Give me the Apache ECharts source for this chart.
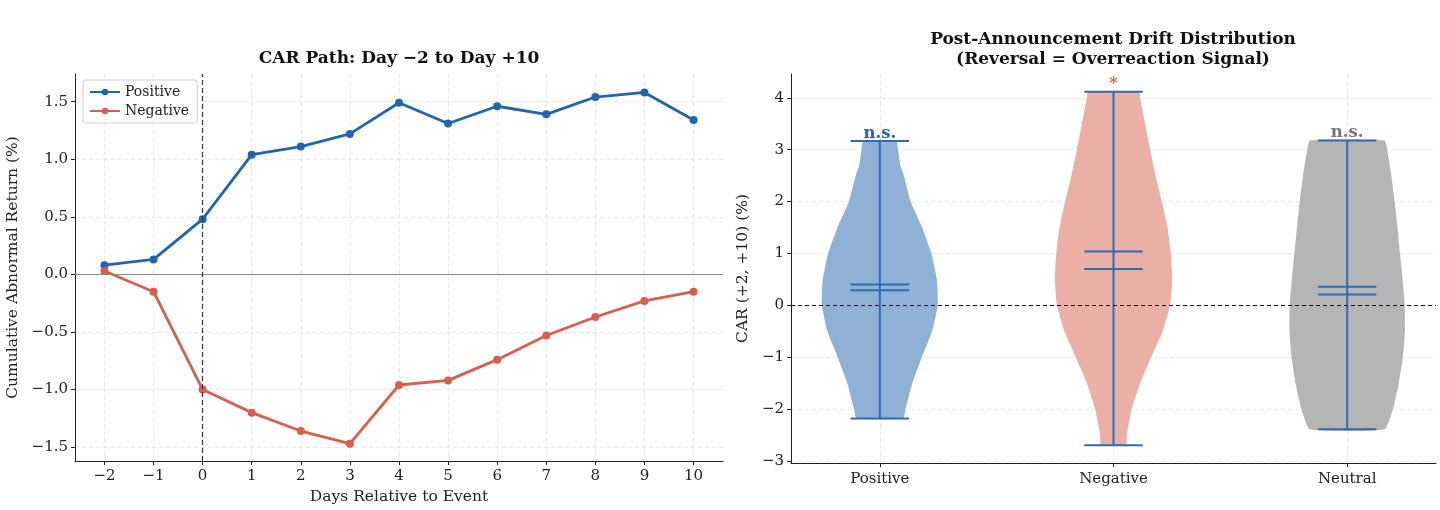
<!DOCTYPE html>
<html lang="en">
<head>
  <meta charset="UTF-8">
  <title>CAR path and drift</title>
  <style>html, body { margin: 0; background: #fff; }</style>
</head>
<body>
<div id="main" style="width:1440px;height:510px;"></div>
<script src="https://cdn.jsdelivr.net/npm/echarts@6/dist/echarts.min.js"></script>
<script>
  // left panel: CAR path
  const days = [-2, -1, 0, 1, 2, 3, 4, 5, 6, 7, 8, 9, 10]
  const positiveCar = [0.08, 0.13, 0.48, 1.04, 1.11, 1.22, 1.49, 1.31, 1.46, 1.39, 1.54, 1.58, 1.34]
  const negativeCar = [0.03, -0.15, -1.00, -1.20, -1.36, -1.47, -0.96, -0.92, -0.74, -0.53, -0.37, -0.23, -0.15]
  const carTicks = [-1.5, -1.0, -0.5, 0.0, 0.5, 1.0, 1.5]

  // right panel: drift distribution (violin outlines)
  const groups = ['Positive', 'Negative', 'Neutral']
  const driftTicks = [-3, -2, -1, 0, 1, 2, 3, 4]
  const posKdeY = [-2.18, -2.0, -1.5, -1.0, -0.5, 0.0, 0.5, 1.0, 1.5, 2.0, 2.5, 2.7, 3.0, 3.17]
  const posKdeW = [0.100, 0.110, 0.139, 0.180, 0.224, 0.248, 0.244, 0.221, 0.181, 0.132, 0.103, 0.088, 0.078, 0.071]
  const negKdeY = [-2.70, -2.5, -2.0, -1.5, -1.0, -0.5, 0.0, 0.5, 1.0, 1.5, 2.0, 2.5, 3.0, 3.5, 4.0, 4.12]
  const negKdeW = [0.053, 0.057, 0.078, 0.114, 0.161, 0.210, 0.242, 0.251, 0.245, 0.231, 0.207, 0.180, 0.157, 0.135, 0.114, 0.110]
  const neuKdeY = [-2.39, -2.0, -1.5, -1.0, -0.5, 0.0, 0.5, 1.0, 1.5, 2.0, 2.5, 3.0, 3.18]
  const neuKdeW = [0.160, 0.196, 0.221, 0.238, 0.247, 0.246, 0.237, 0.226, 0.215, 0.203, 0.189, 0.171, 0.160]
  const driftMax = [3.17, 4.12, 3.18]
  const driftMin = [-2.18, -2.70, -2.39]
  const driftMean = [0.40, 1.04, 0.36]
  const driftMedian = [0.29, 0.70, 0.21]
  const sigLabels = ['n.s.', '*', 'n.s.']

  const kdeY = [posKdeY, negKdeY, neuKdeY]
  const kdeW = [posKdeW, negKdeW, neuKdeW]
  const bodyColors = ['#8fb1d5', '#eaafa5', '#b5b5b5']
  const sigColors = ['#2166ac', '#d6604d', '#777777']
  const statColor = '#2a6db3'
  const serif = '"DejaVu Serif", serif'
  const minus = (s) => String(s).replace('-', '\u2212')

  const axisBase = {
    axisLine: { show: true, onZero: false, lineStyle: { color: '#222', width: 1 } },
    axisTick: { show: true, length: 4, lineStyle: { color: '#222' } },
    axisLabel: { color: '#222', fontFamily: serif, fontSize: 15 },
    splitLine: { show: true, lineStyle: { color: '#e3e3e3', type: [4, 3], width: 0.8 } },
    nameTextStyle: { color: '#222', fontFamily: serif, fontSize: 15.5 }
  }

  function violinItem(params, api) {
    const i = params.dataIndex
    const pos = i + 1
    const ys = kdeY[i], ws = kdeW[i]
    const right = ys.map((y, k) => api.coord([pos + ws[k], y]))
    const left = ys.map((y, k) => api.coord([pos - ws[k], y])).reverse()
    const cap = 0.125
    const seg = (v) => {
      const a = api.coord([pos - cap, v]), b = api.coord([pos + cap, v])
      return { type: 'line', shape: { x1: a[0], y1: a[1], x2: b[0], y2: b[1] }, style: { stroke: statColor, lineWidth: 2 } }
    }
    const top = api.coord([pos, driftMax[i]])
    const bot = api.coord([pos, driftMin[i]])
    return {
      type: 'group',
      children: [
        { type: 'polygon', shape: { points: right.concat(left), smooth: 0.15 }, style: { fill: bodyColors[i] } },
        { type: 'line', shape: { x1: top[0], y1: top[1], x2: bot[0], y2: bot[1] }, style: { stroke: statColor, lineWidth: 2 } },
        seg(driftMax[i]), seg(driftMin[i]), seg(driftMean[i]), seg(driftMedian[i]),
        {
          type: 'text', x: top[0], y: top[1] + 1,
          style: { text: sigLabels[i], fill: sigColors[i], font: 'bold 16.5px ' + serif, align: 'center', verticalAlign: 'bottom' }
        }
      ]
    }
  }

  const chart = echarts.init(document.getElementById('main'))
  const option = {
    backgroundColor: '#fff',
    animation: false,
    graphic: [
      { type: 'text', x: 399, y: 59, style: { text: 'CAR Path: Day \u22122 to Day +10', font: 'bold 17px ' + serif, fill: '#111', align: 'center', verticalAlign: 'middle' } },
      { type: 'text', x: 1113, y: 49.5, style: { text: 'Post-Announcement Drift Distribution\n(Reversal = Overreaction Signal)', font: 'bold 17px ' + serif, fill: '#111', align: 'center', verticalAlign: 'middle', lineHeight: 19.5 } }
    ],
    legend: {
      data: ['Positive', 'Negative'],
      left: 83, top: 80,
      orient: 'vertical',
      itemGap: 5,
      itemWidth: 30, itemHeight: 8,
      padding: [5, 8, 5, 6],
      borderColor: '#cfcfcf', borderWidth: 1, borderRadius: 3,
      backgroundColor: 'rgba(255,255,255,0.85)',
      textStyle: { fontFamily: serif, fontSize: 14, color: '#222' }
    },
    grid: [
      { left: 75, right: 717, top: 74, bottom: 47 },
      { left: 791, right: 4, top: 74, bottom: 47 }
    ],
    xAxis: [
      Object.assign({}, axisBase, {
        gridIndex: 0, type: 'value', min: -2.6, max: 10.6,
        name: 'Days Relative to Event', nameLocation: 'middle', nameGap: 28,
        axisTick: Object.assign({}, axisBase.axisTick, { customValues: days }),
        axisLabel: Object.assign({}, axisBase.axisLabel, { customValues: days, formatter: minus, margin: 8 })
      }),
      Object.assign({}, axisBase, {
        gridIndex: 1, type: 'value', min: 0.62, max: 3.38,
        axisTick: Object.assign({}, axisBase.axisTick, { customValues: [1, 2, 3] }),
        axisLabel: Object.assign({}, axisBase.axisLabel, { customValues: [1, 2, 3], formatter: (v) => groups[Math.round(v) - 1], margin: 9 })
      })
    ],
    yAxis: [
      Object.assign({}, axisBase, {
        gridIndex: 0, type: 'value', min: -1.62, max: 1.74,
        name: 'Cumulative Abnormal Return (%)', nameLocation: 'middle', nameGap: 54,
        axisTick: Object.assign({}, axisBase.axisTick, { customValues: carTicks }),
        axisLabel: Object.assign({}, axisBase.axisLabel, { customValues: carTicks, formatter: (v) => minus(v.toFixed(1)), margin: 7 })
      }),
      Object.assign({}, axisBase, {
        gridIndex: 1, type: 'value', min: -3.04, max: 4.46,
        name: 'CAR (+2, +10) (%)', nameLocation: 'middle', nameGap: 40,
        axisTick: Object.assign({}, axisBase.axisTick, { customValues: driftTicks }),
        axisLabel: Object.assign({}, axisBase.axisLabel, { customValues: driftTicks, formatter: minus, margin: 7 })
      })
    ],
    series: [
      {
        name: 'refs', type: 'line', xAxisIndex: 0, yAxisIndex: 0, data: [], z: 1,
        markLine: {
          silent: true, symbol: 'none', label: { show: false }, animation: false,
          data: [
            { yAxis: 0, lineStyle: { color: '#888', width: 1, type: 'solid' } },
            { xAxis: 0, lineStyle: { color: '#333', width: 1.2, type: [5, 3] } }
          ]
        }
      },
      {
        name: 'Positive', type: 'line', xAxisIndex: 0, yAxisIndex: 0,
        data: days.map((d, i) => [d, positiveCar[i]]),
        color: '#2166ac', symbol: 'circle', symbolSize: 8, lineStyle: { width: 2.8 }, z: 3
      },
      {
        name: 'Negative', type: 'line', xAxisIndex: 0, yAxisIndex: 0,
        data: days.map((d, i) => [d, negativeCar[i]]),
        color: '#d6604d', symbol: 'circle', symbolSize: 8, lineStyle: { width: 2.8 }, z: 3
      },
      {
        name: 'zero', type: 'line', xAxisIndex: 1, yAxisIndex: 1, data: [], z: 5,
        markLine: {
          silent: true, symbol: 'none', label: { show: false }, animation: false,
          data: [{ yAxis: 0, lineStyle: { color: '#111', width: 1.2, type: [4, 3] } }]
        }
      },
      {
        name: 'violins', type: 'custom', xAxisIndex: 1, yAxisIndex: 1, clip: false, z: 3,
        renderItem: violinItem,
        data: groups.map((g, i) => [i + 1, driftMedian[i]]),
        encode: { x: 0, y: 1 }
      }
    ]
  }
  chart.setOption(option)
</script>
</body>
</html>
